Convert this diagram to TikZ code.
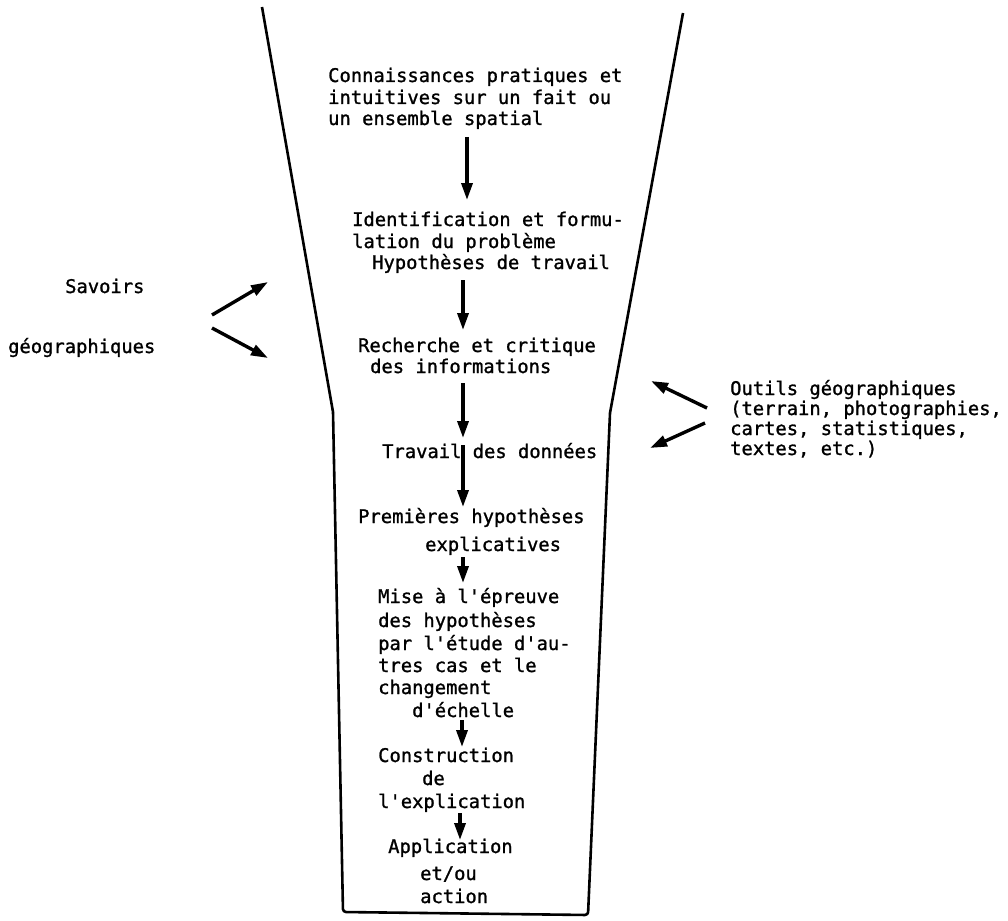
\documentclass[tikz,border=0pt]{standalone}
\usepackage{fontspec}
\newfontfamily\tw[FakeBold=1.2]{DejaVu Sans Mono}
\usetikzlibrary{arrows.meta,calc}
\tikzset{
  txt/.style={anchor=base west, inner sep=0pt, font=\tw\fontsize{18.8}{22}\selectfont},
  arr/.style={line width=3.4pt, -{Triangle[length=17pt,width=11pt]}},
  funnel/.style={line width=2.6pt, line join=round}
}
\begin{document}
\begin{tikzpicture}[x=1pt,y=-1pt]
\useasboundingbox (0,0) rectangle (1008,920);
% funnel
\draw[funnel] (262,7) -- (333,412) [rounded corners=3pt] -- (343,912) -- (588,915) [sharp corners] -- (610,413) -- (683,13);
% block 1
\node[txt] (a1) at (328,82) {Connaissances pratiques et};
\node[txt] (a2) at (328,104) {intuitives sur un fait ou};
\node[txt] (a3) at (328,125) {un ensemble spatial};
% block 2
\node[txt] (b1) at (352,226) {Identification et formu-};
\node[txt] (b2) at (352,248) {lation du problème};
\node[txt] (b3) at (372,269) {Hypothèses de travail};
% block 3
\node[txt] (c1) at (358,352) {Recherche et critique};
\node[txt] (c2) at (370,373) {des informations};
% block 4
\node[txt] (d1) at (382,458) {Travail des données};
% block 5
\node[txt] (e1) at (358,523) {Premières hypothèses};
\node[txt] (e2) at (425,551) {explicatives};
% block 6
\node[txt] (f1) at (378,603) {Mise à l'épreuve};
\node[txt] (f2) at (378,627) {des hypothèses};
\node[txt] (f3) at (378,650) {par l'étude d'au-};
\node[txt] (f4) at (378,672) {tres cas et le};
\node[txt] (f5) at (378,694) {changement};
\node[txt] (f6) at (412,717) {d'échelle};
% block 7
\node[txt] (g1) at (378,762) {Construction};
\node[txt] (g2) at (422,785) {de};
\node[txt] (g3) at (378,808) {l'explication};
% block 8
\node[txt] (h1) at (388,853) {Application};
\node[txt] (h2) at (420,880) {et/ou};
\node[txt] (h3) at (420,903) {action};
% vertical arrows
\draw[arr] ($(a3.base west)+(139,12)$) -- ($(b1.base west)+(115,-26)$);
\draw[arr] ($(b3.base west)+(91,11)$) -- ($(c1.base west)+(105,-22)$);
\draw[arr] ($(c2.base west)+(93,10)$) -- ($(d1.base west)+(81,-20)$);
\draw[arr] ($(d1.base west)+(81,-13)$) -- ($(e1.base west)+(105,-16)$);
\draw[arr] ($(e2.base west)+(38,6)$) -- ($(f1.base west)+(85,-20)$);
\draw[arr] ($(f6.base west)+(50,3)$) -- ($(g1.base west)+(84,-15)$);
\draw[arr] ($(g3.base west)+(82,5)$) -- ($(h1.base west)+(72,-13)$);
% left side
\node[txt] (s1) at (65,293) {Savoirs};
\node[txt] (s2) at (8,353) {géographiques};
\coordinate (sl) at (212,315);
\coordinate (sm) at (212,328);
\draw[arr] (sl) -- (268,282);
\draw[arr] (sm) -- (268,358);
% right side
\node[txt] (o1) at (730,395) {Outils géographiques};
\node[txt] (o2) at (730,415) {(terrain, photographies,};
\node[txt] (o3) at (730,435) {cartes, statistiques,};
\node[txt] (o4) at (730,455) {textes, etc.)};
\coordinate (ol) at (707,408);
\coordinate (om) at (705,423);
\draw[arr] (ol) -- (651,381);
\draw[arr] (om) -- (650,448);
\end{tikzpicture}
\end{document}
